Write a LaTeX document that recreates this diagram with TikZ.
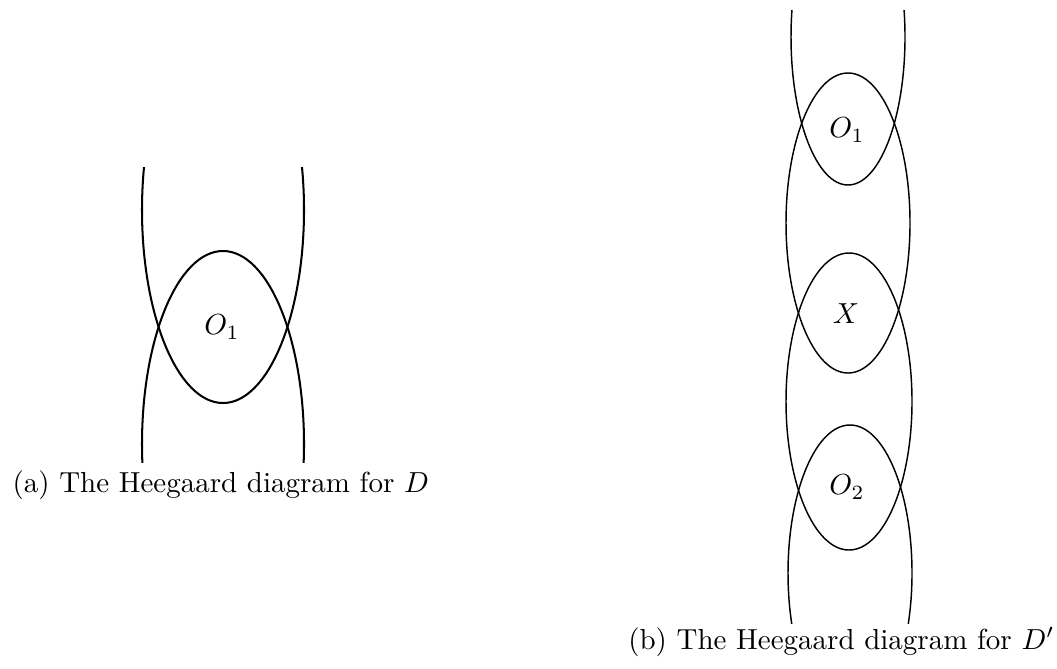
\documentclass[tikz,border=0pt]{standalone}
\usepackage{amsmath}
\usepackage{tikz}
\usetikzlibrary{positioning}
\tikzset{
  curvea/.style={line width=0.7pt, color=black},
  curveb/.style={line width=0.5pt, color=black},
  lbl/.style={font=\normalsize},
  capt/.style={font=\normalsize, inner sep=0pt}
}

\begin{document}
\begin{tikzpicture}[x=0.345pt, y=-0.345pt]
  % Frame
  \useasboundingbox (0,0) rectangle (1057,668);

  % (a) Two ellipses
  \begin{scope}
    \clip (100,167) rectangle (350,462);
    \draw[curvea] (223,210) ellipse [x radius=81, y radius=193];
    \draw[curvea] (223,444) ellipse [x radius=81, y radius=193];
  \end{scope}
  \node[lbl] (oa) at (222,327) {$O_1$};
  \node[capt, anchor=base west] (capa) at (12,492) {(a) The Heegaard diagram for $D$};

  % (b) Chain of ellipses
  \begin{scope}
    \clip (700,10) rectangle (1000,623);
    \draw[curveb] (848,37) ellipse [x radius=57, y radius=148];
    \draw[curveb] (848,223) ellipse [x radius=62, y radius=150];
    \draw[curveb] (849,401.5) ellipse [x radius=63, y radius=148.5];
    \draw[curveb] (850,573) ellipse [x radius=62, y radius=148];
  \end{scope}
  \node[lbl] (ob1) at (847,130) {$O_1$};
  \node[lbl] (xb) at (846,314) {$X$};
  \node[lbl] (ob2) at (847,487) {$O_2$};
  \node[capt, anchor=base east] (capb) at (1055,649) {(b) The Heegaard diagram for $D'$};
\end{tikzpicture}
\end{document}
